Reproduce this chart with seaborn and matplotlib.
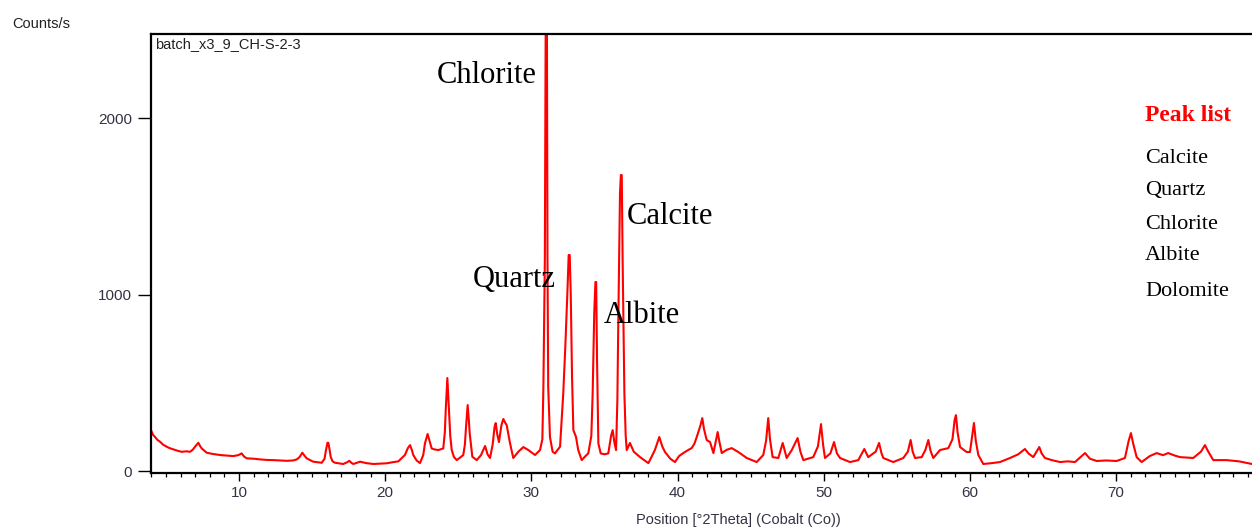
import matplotlib
matplotlib.use("Agg")
import matplotlib.pyplot as plt
from matplotlib.ticker import MultipleLocator
import seaborn as sns
import pandas as pd

two_theta = [
    4.00, 4.12, 4.25, 4.40, 4.60, 4.80, 5.05, 5.25, 5.50, 5.80, 6.08, 6.40, 6.65, 6.85, 6.99,
    7.22, 7.35, 7.45, 7.79, 8.20, 8.70, 9.10, 9.61, 9.95, 10.18, 10.35, 10.53, 11.00, 11.44,
    11.90, 12.35, 12.80, 13.26, 13.70, 13.95, 14.15, 14.33, 14.50, 14.63, 15.08, 15.40, 15.66,
    15.85, 15.95, 16.05, 16.11, 16.20, 16.27, 16.40, 16.57, 17.13, 17.40, 17.54, 17.70, 17.82,
    18.28, 18.70, 19.19, 19.60, 20.10, 20.50, 20.90, 21.35, 21.55, 21.70, 21.82, 21.92, 22.15,
    22.38, 22.60, 22.72, 22.90, 23.05, 23.18, 23.40, 23.63, 23.97, 24.08, 24.14, 24.25, 24.36,
    24.45, 24.55, 24.70, 24.89, 25.10, 25.34, 25.45, 25.53, 25.64, 25.72, 25.78, 25.96, 26.26,
    26.55, 26.83, 27.00, 27.17, 27.35, 27.48, 27.56, 27.66, 27.78, 27.95, 28.08, 28.20, 28.31,
    28.54, 28.76, 29.10, 29.45, 29.79, 30.25, 30.59, 30.75, 30.82, 30.92, 30.98, 31.06, 31.10,
    31.15, 31.27, 31.45, 31.61, 31.96, 32.18, 32.32, 32.46, 32.55, 32.62, 32.69, 32.78, 32.87,
    33.05, 33.20, 33.44, 33.70, 33.89, 34.10, 34.19, 34.30, 34.38, 34.43, 34.49, 34.58, 34.74,
    35.00, 35.26, 35.45, 35.56, 35.68, 35.79, 35.88, 35.94, 36.06, 36.12, 36.18, 36.24, 36.36,
    36.45, 36.52, 36.74, 37.00, 37.43, 38.00, 38.11, 38.45, 38.75, 38.95, 39.14, 39.50, 39.82,
    40.10, 40.39, 40.70, 40.96, 41.15, 41.31, 41.55, 41.69, 41.80, 41.99, 42.22, 42.45, 42.62,
    42.74, 42.85, 43.02, 43.35, 43.70, 44.15, 44.73, 45.41, 45.86, 46.05, 46.20, 46.32, 46.50,
    46.89, 47.19, 47.46, 47.81, 48.21, 48.40, 48.60, 49.28, 49.60, 49.81, 49.95, 50.08, 50.45,
    50.70, 50.90, 51.11, 51.79, 52.36, 52.77, 53.04, 53.55, 53.78, 53.95, 54.07, 54.75, 55.44,
    55.75, 55.94, 56.08, 56.24, 56.70, 56.95, 57.15, 57.30, 57.49, 57.95, 58.52, 58.80, 58.95,
    59.04, 59.15, 59.32, 59.77, 60.00, 60.15, 60.27, 60.40, 60.57, 60.91, 61.50, 62.05, 62.74,
    63.30, 63.76, 64.00, 64.33, 64.74, 64.90, 65.13, 65.60, 66.16, 66.70, 67.18, 67.87, 68.20,
    68.67, 69.30, 70.03, 70.60, 70.85, 71.01, 71.15, 71.40, 71.74, 72.30, 72.77, 73.20, 73.56,
    74.00, 74.36, 75.27, 75.80, 76.07, 76.30, 76.64, 77.55, 78.40, 79.29,
]
counts = [
    228, 205, 194, 178, 166, 150, 138, 130, 123, 115, 109, 112, 109, 122, 138,
    160, 140, 128, 104, 97, 91, 88, 85, 90, 100, 82, 72, 70, 66,
    63, 62, 60, 58, 60, 66, 80, 104, 85, 72, 53, 50, 47,
    70, 119, 160, 160, 119, 81, 55, 47, 40, 50, 58, 46, 40,
    53, 45, 40, 42, 44, 50, 55, 91, 130, 147, 120, 91, 60,
    45, 90, 157, 210, 165, 128, 122, 119, 128, 220, 346, 527, 346,
    200, 119, 80, 62, 75, 91, 150, 251, 374, 290, 213, 81, 62,
    90, 142, 95, 74, 150, 250, 272, 210, 164, 260, 295, 275, 260,
    157, 74, 109, 136, 119, 91, 119, 180, 476, 1200, 2600, 2600, 1200,
    476, 193, 110, 100, 138, 442, 704, 1008, 1224, 1224, 1008, 534, 232,
    194, 120, 62, 85, 100, 200, 440, 900, 1071, 1071, 629, 157, 100,
    95, 100, 200, 232, 160, 119, 400, 817, 1575, 1677, 1677, 1195, 440,
    200, 119, 159, 110, 79, 45, 62, 120, 193, 140, 108, 70, 51,
    85, 102, 118, 130, 155, 193, 255, 300, 240, 176, 164, 102, 170,
    221, 170, 102, 120, 130, 108, 74, 51, 91, 170, 300, 180, 79,
    74, 159, 74, 119, 187, 110, 62, 79, 140, 266, 150, 74, 100,
    164, 100, 74, 51, 62, 125, 79, 110, 159, 100, 74, 51, 74,
    110, 176, 110, 74, 79, 120, 176, 115, 74, 119, 130, 180, 290,
    317, 220, 136, 108, 108, 200, 272, 170, 91, 40, 45, 51, 74,
    95, 125, 100, 79, 136, 100, 74, 62, 51, 55, 51, 102, 70,
    57, 60, 57, 74, 170, 215, 160, 79, 51, 85, 102, 90, 102,
    88, 79, 74, 110, 147, 110, 62, 62, 55, 40,
]

x_ticks = [10, 20, 30, 40, 50, 60, 70]
y_ticks = [0, 1000, 2000]

phase_labels = ["Chlorite", "Calcite", "Quartz", "Albite"]
phase_label_x = [23.54, 36.54, 26.00, 34.97]
phase_label_y = [2198, 1399, 1044, 838]

peak_list = ["Calcite", "Quartz", "Chlorite", "Albite", "Dolomite"]

# ---- figure ----
sns.set_theme(style="white")
plt.rcParams["font.family"] = ["Liberation Sans", "DejaVu Sans"]

W, H = 1252, 527
fig = plt.figure(figsize=(W / 100, H / 100), dpi=100)
ax = fig.add_axes([151 / W, 1 - 473 / H, 1 - 151 / W, (473 - 34) / H])

df = pd.DataFrame({"two_theta": two_theta, "counts": counts})
sns.lineplot(data=df, x="two_theta", y="counts", ax=ax, color="#ff0000",
             linewidth=1.5, estimator=None, sort=False)

ax.set_xlim(3.98, 79.29)
ax.set_ylim(-11, 2476)
ax.set_xticks(x_ticks)
ax.set_xticklabels([str(v) for v in x_ticks])
ax.xaxis.set_minor_locator(MultipleLocator(1))
ax.set_yticks(y_ticks)
ax.set_yticklabels([str(v) for v in y_ticks])
ax.set_xlabel("")
ax.set_ylabel("")

for side in ["left", "top", "bottom"]:
    ax.spines[side].set_visible(True)
    ax.spines[side].set_color("black")
    ax.spines[side].set_linewidth(1.6)
ax.spines["right"].set_visible(False)

tick_col = "#333344"
ax.tick_params(axis="x", which="major", direction="out", length=5.5, width=1.0,
               color="black", labelsize=11, labelcolor=tick_col, pad=4, bottom=True)
ax.tick_params(axis="x", which="minor", direction="out", length=3, width=0.9,
               color="black", bottom=True)
ax.tick_params(axis="y", which="major", direction="out", length=9.5, width=1.0,
               color="black", labelsize=11, labelcolor=tick_col, pad=4, left=True)

# phase annotations
for lab, lx, ly in zip(phase_labels, phase_label_x, phase_label_y):
    ax.text(lx, ly, lab, fontsize=22, family=["Liberation Serif", "DejaVu Serif"],
            color="black", ha="left", va="baseline")

# header texts
fig.text(12 / W, 1 - 28 / H, "Counts/s", fontsize=10.5, color="#222222",
         ha="left", va="baseline")
fig.text(155 / W, 1 - 48 / H, "batch_x3_9_CH-S-2-3", fontsize=10.5, color="#222222",
         ha="left", va="baseline")
fig.text(636 / W, 1 - 524 / H, "Position [°2Theta] (Cobalt (Co))", fontsize=10.5,
         color=tick_col, ha="left", va="baseline")

# peak list
fig.text(1145 / W, 1 - 121 / H, "Peak list", fontsize=17, fontweight="bold",
         color="#ff0000", family=["Liberation Serif", "DejaVu Serif"],
         ha="left", va="baseline")
peak_baselines = [163, 195, 229, 260, 296]
for name, b in zip(peak_list, peak_baselines):
    fig.text(1145 / W, 1 - b / H, name, fontsize=16, color="black",
             family=["Liberation Serif", "DejaVu Serif"], ha="left", va="baseline")

fig.savefig("out.png", dpi=100)
